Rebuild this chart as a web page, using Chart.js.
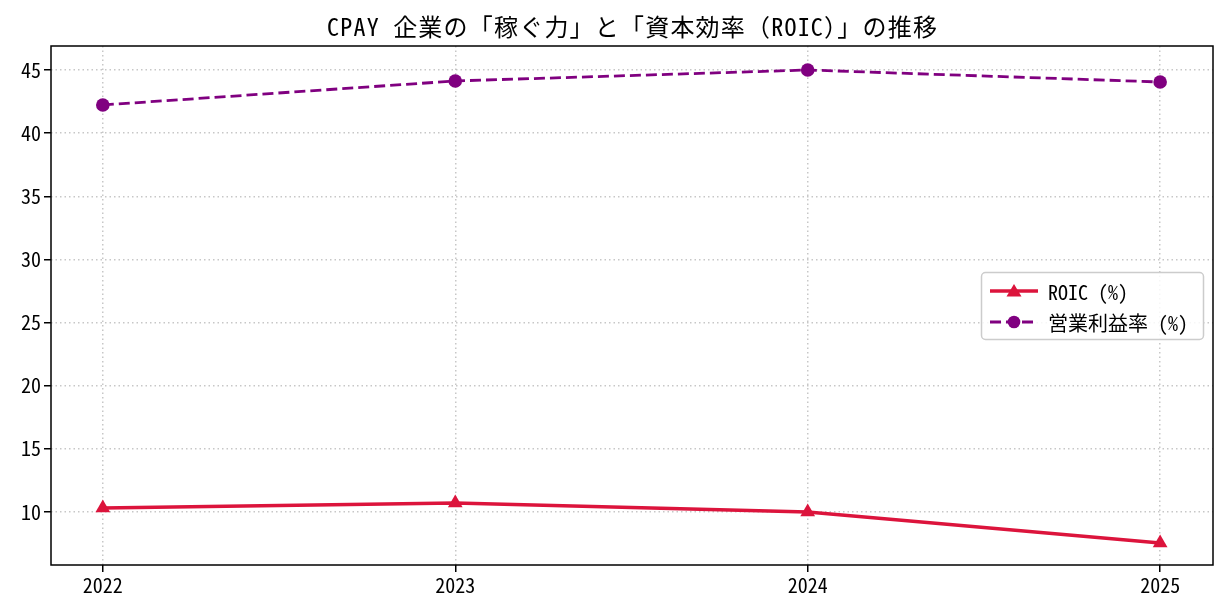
<!DOCTYPE html>
<html><head><meta charset="utf-8">
<script src="https://cdn.jsdelivr.net/npm/chart.js@4/dist/chart.umd.min.js"></script>
<style>html,body{margin:0;padding:0;background:#fff}#w{width:1228px;height:616px}</style>
</head><body><div id="w"><canvas id="c" width="1228" height="616"></canvas></div>
<script>
const years = [2022, 2023, 2024, 2025];
const roic = [10.32, 10.71, 10.0, 7.55];
const opMargin = [42.23, 44.13, 45.0, 44.05];
const yTicks = [10, 15, 20, 25, 30, 35, 40, 45];
const titleText = 'CPAY 企業の「稼ぐ力」と「資本効率（ROIC）」の推移';
const labels = ['ROIC (%)', '営業利益率 (%)'];
const FONT = '"Noto Sans Mono CJK JP", "Noto Sans CJK JP", monospace';

const frame = {
  id: 'frame',
  afterDraw(chart) {
    const {ctx, chartArea: a} = chart;
    ctx.save();
    ctx.strokeStyle = '#000'; ctx.lineWidth = 1.5;
    ctx.strokeRect(a.left, a.top, a.right - a.left, a.bottom - a.top);
    // title
    ctx.fillStyle = '#000';
    ctx.font = '24px ' + FONT;
    ctx.textAlign = 'center'; ctx.textBaseline = 'middle';
    const w = ctx.measureText(titleText).width;
    const extra = (611 - w) / Array.from(titleText).length;
    if (extra > 0 && 'letterSpacing' in ctx) ctx.letterSpacing = extra + 'px';
    ctx.fillText(titleText, (a.left + a.right) / 2 + (extra > 0 ? extra / 2 : 0), 27);
    if ('letterSpacing' in ctx) ctx.letterSpacing = '0px';
    // legend
    const lx = 981, ly = 272, lw = 222, lh = 67;
    ctx.fillStyle = 'rgba(255,255,255,0.85)';
    ctx.strokeStyle = '#ccc'; ctx.lineWidth = 1.5;
    ctx.beginPath(); ctx.roundRect(lx + 0.5, ly + 0.5, lw, lh, 4); ctx.fill(); ctx.stroke();
    chart.data.datasets.forEach((ds, i) => {
      const y = ly + 19 + i * 31;
      ctx.strokeStyle = ds.borderColor; ctx.lineWidth = ds.borderWidth;
      ctx.setLineDash(ds.borderDash || []);
      ctx.beginPath(); ctx.moveTo(lx + 9, y); ctx.lineTo(lx + 57, y); ctx.stroke();
      ctx.setLineDash([]);
      ctx.fillStyle = ds.backgroundColor;
      const cx = lx + 33;
      if (ds.pointStyle === 'triangle') {
        ctx.beginPath(); ctx.moveTo(cx, y - 7); ctx.lineTo(cx + 7.5, y + 5.5); ctx.lineTo(cx - 7.5, y + 5.5); ctx.closePath(); ctx.fill();
      } else {
        ctx.beginPath(); ctx.arc(cx, y, 6.3, 0, Math.PI * 2); ctx.fill();
      }
      ctx.fillStyle = '#000'; ctx.font = '20px ' + FONT;
      ctx.textAlign = 'left'; ctx.textBaseline = 'middle';
      ctx.fillText(ds.label, lx + 67, y + 1);
    });
    ctx.restore();
  }
};

new Chart(document.getElementById('c'), {
  type: 'line',
  data: {
    datasets: [
      { label: labels[0], data: years.map((y, i) => ({x: y, y: roic[i]})),
        borderColor: '#dc143c', backgroundColor: '#dc143c', borderWidth: 3.5,
        pointStyle: 'triangle', pointRadius: 8.5, pointHoverRadius: 8.5, pointBorderWidth: 0, tension: 0 },
      { label: labels[1], data: years.map((y, i) => ({x: y, y: opMargin[i]})),
        borderColor: '#800080', backgroundColor: '#800080', borderWidth: 2.8,
        borderDash: [11, 5], pointStyle: 'circle', pointRadius: 6.8, pointHoverRadius: 6.8, pointBorderWidth: 0, tension: 0 }
    ]
  },
  options: {
    responsive: false, animation: false,
    layout: { padding: { top: 46, right: 15, bottom: 0, left: 0 } },
    plugins: { legend: { display: false }, title: { display: false }, tooltip: { enabled: false } },
    scales: {
      x: { type: 'linear', min: 2022 - 0.147, max: 2025 + 0.15,
        afterBuildTicks: ax => { ax.ticks = years.map(v => ({value: v})); },
        afterFit: ax => { ax.height = 51; },
        grid: { color: 'rgba(180,180,180,0.75)', lineWidth: 1.5, tickColor: '#000', tickLength: 7, tickWidth: 1.5 },
        border: { display: false, dash: [1.5, 3] },
        ticks: { color: '#000', font: { family: FONT, size: 20 }, padding: 1, maxRotation: 0, callback: v => String(v) } },
      y: { min: 5.8, max: 46.9,
        afterBuildTicks: ax => { ax.ticks = yTicks.map(v => ({value: v})); },
        afterFit: ax => { ax.width = 51; },
        grid: { color: 'rgba(180,180,180,0.75)', lineWidth: 1.5, tickColor: '#000', tickLength: 7, tickWidth: 1.5 },
        border: { display: false, dash: [1.5, 3] },
        ticks: { color: '#000', font: { family: FONT, size: 20 }, padding: 3 } }
    }
  },
  plugins: [frame]
});
</script></body></html>
